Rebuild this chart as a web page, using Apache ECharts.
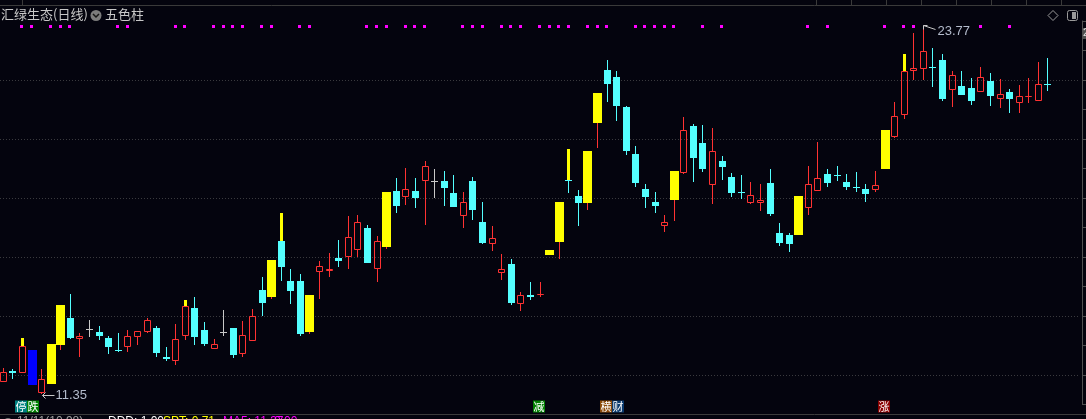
<!DOCTYPE html>
<html><head><meta charset="utf-8">
<script src="https://cdn.jsdelivr.net/npm/echarts@6/dist/echarts.min.js"></script>
<style>html,body{margin:0;padding:0;background:#04040e;overflow:hidden}#c{width:1086px;height:419px}</style>
</head><body><div id="c"></div>
<script>
// ---------------- DATA ----------------
const openP = [11.75,12.14,12.08,12.85,11.38,11.69,13.02,13.93,13.23,13.56,
13.46,13.25,12.85,12.96,13.30,13.47,13.59,12.62,12.48,13.33,
14.27,13.53,12.87,13.45,13.59,12.72,13.16,14.88,14.64,16.54,
15.19,15.19,13.47,15.48,15.54,15.97,16.01,16.25,16.98,15.60,
16.34,18.24,18.02,18.24,18.59,18.57,18.58,18.17,17.40,18.58,
17.19,16.45,15.47,15.76,14.42,14.72,14.71,16.07,16.51,18.62,
18.07,17.83,20.55,22.34,22.10,21.08,19.49,18.31,17.86,17.06,
17.93,18.86,20.44,19.86,18.45,19.25,18.71,18.22,17.84,17.84,
18.51,16.81,16.75,16.76,17.67,18.25,18.81,18.78,18.54,18.37,
18.31,18.28,18.98,20.07,20.82,22.32,22.36,22.43,22.68,21.67,
21.80,21.73,21.60,21.97,21.37,21.59,21.23,21.43,21.30,21.85];
const closeP = [12.09,12.07,12.98,11.66,11.86,13.05,14.37,13.26,13.32,13.56,
13.33,12.95,12.80,13.31,13.49,13.86,12.76,12.55,13.21,14.34,
13.30,13.06,13.05,13.45,12.69,13.35,13.99,14.45,15.90,15.67,
14.86,13.40,14.71,15.68,15.59,15.87,16.67,17.18,15.81,16.53,
18.20,17.74,18.29,18.01,19.08,18.57,18.35,17.71,17.85,17.59,
16.47,16.63,15.58,14.45,14.70,14.65,14.75,16.24,17.86,18.60,
17.83,19.59,21.56,21.87,21.13,19.60,18.52,18.04,17.74,17.18,
18.92,20.31,19.37,18.99,19.59,19.05,18.18,18.19,18.09,17.93,
17.47,16.48,16.45,18.07,18.46,18.67,18.52,18.75,18.38,18.34,
18.15,18.43,20.31,20.77,22.31,22.40,22.97,22.40,21.36,22.17,
21.50,21.30,22.09,21.47,21.52,21.37,21.45,21.46,21.86,21.83];
const lowP = [11.75,11.86,12.08,11.66,11.35,11.69,12.85,13.21,12.62,13.30,
13.19,12.71,12.78,12.78,13.02,13.41,12.62,12.48,12.35,13.20,
13.02,12.99,12.87,13.33,12.59,12.62,13.16,14.01,14.58,15.20,
14.42,13.33,13.40,14.59,15.33,15.67,15.60,16.00,15.81,15.16,
16.28,17.50,17.77,17.67,17.08,18.01,17.74,17.71,16.99,17.26,
16.45,16.21,15.23,14.38,14.18,14.55,14.65,16.07,15.93,18.18,
17.05,17.59,19.69,21.25,20.61,19.47,18.38,17.67,17.50,16.86,
17.23,18.82,18.55,18.89,17.81,18.61,18.03,17.97,17.81,17.56,
17.40,16.38,16.18,16.76,17.43,18.23,18.38,18.58,18.27,18.20,
17.86,18.21,18.98,20.03,20.67,22.01,22.01,21.77,21.29,21.09,
21.50,21.16,21.60,21.13,21.06,20.89,20.89,21.23,21.30,21.64];
const highP = [12.23,12.19,13.25,12.85,12.20,13.05,14.37,14.75,13.42,13.86,
13.66,13.32,13.42,13.53,13.50,13.93,13.66,12.95,13.74,14.54,
14.64,13.80,13.22,14.20,13.59,13.83,14.24,15.32,15.90,17.49,
15.59,15.42,14.71,15.86,16.14,16.58,17.39,17.42,17.08,16.71,
18.20,18.68,19.02,18.68,19.25,18.98,18.92,18.78,18.20,18.71,
17.86,17.05,16.10,15.93,14.81,15.15,15.15,16.24,17.86,19.66,
18.27,19.59,21.56,22.68,22.31,21.12,19.75,18.47,18.20,17.42,
18.92,20.75,20.51,20.47,20.37,19.42,18.85,18.78,18.54,18.47,
18.98,17.15,16.81,18.07,19.08,19.90,18.98,19.08,18.81,18.88,
18.47,18.92,20.31,21.26,22.88,23.59,23.77,23.08,22.88,22.31,
22.31,22.07,22.44,22.24,22.03,21.69,21.83,22.07,22.61,22.75];
// bar class: R rise, C fall, Y strong rise, B strong fall, W flat
const kinds = ("RCRBRYYCRW"+"CCCRRRCCRR"+"CCRWCRRCYC"+"CCYRRCRRCR"+"YCRCRWCCRC"+
               "CRRCRCRYYC"+"CYYCCCCCCR"+"YRCCRCCCRR"+"CCCYRRCCCC"+"CRYRRRRCCR"+"CCRCRCRRRC").split('');
const yellowTopIdx = [2,19,29,59,94];
const dotIdx = [2,3,5,6,7,12,13,18,19,22,23,24,25,27,28,31,32,38,39,40,42,43,44,48,49,50,
                52,53,54,56,57,58,59,61,62,63,66,67,68,69,70,73,75,84,86,92,94,95,102,105];
const signalIdx = [2,56,63,92];
const signalText = ['停跌','减','横财','涨'];
const extremeIdx = [4,96];
const extremeVal = [11.35,23.77];
const gridVals = [12,14,16,18,20,22];
const titleText = '汇绿生态(日线)';
const indicatorText = '五色柱';

// ---------------- STYLE ----------------
const COL = {R:'#ff3232', C:'#54ffff', Y:'#ffff00', B:'#0000ff', W:'#c8c8c8'};
const SIG_BG = {'停':'#008080','跌':'#008000','减':'#008000','横':'#8b4a0a','财':'#0a3a6e','涨':'#8b0000'};
const FONT = '"Noto Sans CJK SC","Noto Sans",sans-serif';

const candleData = openP.map((o,i)=>[i,o,closeP[i],lowP[i],highP[i]]);

function renderCandle(params, api){
  const i = api.value(0);
  const k = kinds[i];
  const pO = api.coord([i, api.value(1)]);
  const cx = pO[0];
  const yO = pO[1];
  const yC = api.coord([i, api.value(2)])[1];
  const yL = api.coord([i, api.value(3)])[1];
  const yH = api.coord([i, api.value(4)])[1];
  const wide = (k==='Y'||k==='B');
  const bw = wide ? 9 : 7;
  const left = Math.round(cx - bw/2);
  const lx = left + Math.floor(bw/2) + 0.5;
  let top = Math.round(Math.min(yO,yC));
  let bot = Math.round(Math.max(yO,yC));
  if (bot - top < 1) bot = top + 1;
  const hi = Math.round(yH), lo = Math.round(yL);
  const col = COL[k];
  const wickCol = (k==='Y') ? COL.R : col;
  const ch = [];
  if (yellowTopIdx.indexOf(i) >= 0) {
    ch.push({type:'rect', shape:{x:lx-1.5, y:hi, width:3, height:Math.max(top-hi,1)}, style:{fill:COL.Y}});
  } else if (top > hi) {
    ch.push({type:'line', shape:{x1:lx,y1:hi,x2:lx,y2:top}, style:{stroke:wickCol,lineWidth:1}});
  }
  if (lo > bot) ch.push({type:'line', shape:{x1:lx,y1:bot,x2:lx,y2:lo}, style:{stroke:wickCol,lineWidth:1}});
  if (k==='R') {
    ch.push({type:'rect', shape:{x:left+0.5, y:top+0.5, width:bw-1, height:Math.max(bot-top-1,0)},
      style:{fill:'rgba(0,0,0,0)', stroke:col, lineWidth:1}});
  } else {
    ch.push({type:'rect', shape:{x:left, y:top, width:bw, height:bot-top}, style:{fill:col}});
  }
  return {type:'group', children:ch};
}

function renderGrid(params, api){
  const cs = params.coordSys;
  const y = Math.round(api.coord([0, api.value(1)])[1]) + 0.5;
  return {type:'line', shape:{x1:cs.x, y1:y, x2:cs.x+cs.width-2, y2:y},
    style:{stroke:'#3a3a3e', lineWidth:1, lineDash:[1,2]}};
}

function renderDot(params, api){
  const cs = params.coordSys;
  const x = api.coord([api.value(0), 0])[0];
  return {type:'rect', shape:{x:Math.round(x)-2, y:cs.y+4, width:3, height:3}, style:{fill:'#ff00ff'}};
}

function renderSignal(params, api){
  const cs = params.coordSys;
  const x = api.coord([api.value(0), 0])[0];
  const txt = signalText[params.dataIndex];
  const x0 = Math.round(x) - 7;
  const y0 = cs.y + cs.height - 4;
  const ch = [];
  txt.split('').forEach((c,j)=>{
    ch.push({type:'rect', shape:{x:x0+j*12, y:y0, width:12, height:12}, style:{fill:SIG_BG[c]||'#444'}});
    ch.push({type:'text', style:{text:c, x:x0+j*12+6, y:y0+6.5, fill:'#ffffff', font:'11px '+FONT, align:'center', verticalAlign:'middle'}});
  });
  return {type:'group', children:ch};
}

function renderExtreme(params, api){
  const i = api.value(0), v = api.value(1);
  const p = api.coord([i, v]);
  const cx = Math.round(p[0]) + 0.5;
  const isLow = Math.abs(v - lowP[i]) < 1e-6;
  const col = '#c8c8c8';
  const ch = [];
  if (isLow) {
    const ty = Math.round(p[1]) + 1.5;
    ch.push({type:'line', shape:{x1:cx, y1:ty, x2:cx+12, y2:ty}, style:{stroke:col, lineWidth:1}});
    ch.push({type:'polyline', shape:{points:[[cx+3,ty-3],[cx,ty],[cx+3,ty+3]]}, style:{stroke:col, lineWidth:1, fill:null}});
    ch.push({type:'text', style:{text:v.toFixed(2), x:cx+13, y:ty, fill:'#b4bccc', font:'13px "Liberation Sans",Arial,sans-serif', verticalAlign:'middle'}});
  } else {
    const ty = Math.round(p[1]) - 2.5;
    ch.push({type:'line', shape:{x1:cx, y1:ty, x2:cx+12, y2:ty+4}, style:{stroke:col, lineWidth:1}});
    ch.push({type:'polyline', shape:{points:[[cx+4,ty],[cx,ty],[cx,ty+4]]}, style:{stroke:col, lineWidth:1, fill:null}});
    ch.push({type:'text', style:{text:v.toFixed(2), x:cx+14, y:ty+6, fill:'#b4bccc', font:'13px "Liberation Sans",Arial,sans-serif', verticalAlign:'middle'}});
  }
  return {type:'group', children:ch};
}

const chart = echarts.init(document.getElementById('c'), null, {renderer:'canvas'});
const topSeps = [22.5,816.5,851.5,886.5,921.5,956.5,991.5,1026.5,1061.5];
const graphics = [
  {type:'line', shape:{x1:0,y1:5.5,x2:1086,y2:5.5}, style:{stroke:'#3a3a3a',lineWidth:1}, silent:true},
  {type:'line', shape:{x1:0,y1:414.5,x2:1086,y2:414.5}, style:{stroke:'#3c3c3c',lineWidth:1}, silent:true},
  {type:'text', left:1, top:8, style:{text:titleText, fill:'#c8c8c8', font:'13px '+FONT}},
  {type:'circle', shape:{cx:96,cy:15.5,r:5.5}, style:{fill:'#7c7c7c'}},
  {type:'polyline', shape:{points:[[93,14],[96,17],[99,14]]}, style:{stroke:'#151515',lineWidth:1.5,fill:null}},
  {type:'text', left:105, top:8, style:{text:indicatorText, fill:'#c8c8c8', font:'13px '+FONT}},
  {type:'polygon', shape:{points:[[1053,10.5],[1058,15.5],[1053,20.5],[1048,15.5]]}, style:{stroke:'#9a9a9a',fill:null,lineWidth:1}},
  {type:'rect', shape:{x:1067.5,y:10.5,width:10,height:10,r:2}, style:{stroke:'#9a9a9a',fill:null,lineWidth:1}},
  {type:'rect', shape:{x:1072,y:12,width:4,height:7}, style:{fill:'#9a9a9a'}},
  {type:'rect', shape:{x:1083,y:28,width:20,height:11}, style:{fill:'#505050'}},
  {type:'text', left:1083, top:27, style:{text:'23.9', fill:'#e0e0e0', font:'11px "Liberation Sans",Arial,sans-serif'}},
  {type:'circle', shape:{cx:8,cy:423,r:5}, style:{fill:'#777'}},
  {type:'text', left:17, top:416, style:{text:'11/11(10.98)', fill:'#a0a0a0', font:'12px "Liberation Sans",Arial'}},
  {type:'text', left:108, top:416, style:{text:'DDD: 1.00', fill:'#ffffff', font:'12px "Liberation Sans",Arial'}},
  {type:'text', left:163, top:416, style:{text:'SPT: 0.71', fill:'#ffff00', font:'12px "Liberation Sans",Arial'}},
  {type:'text', left:223, top:416, style:{text:'MA5: 11.37', fill:'#ff00ff', font:'12px "Liberation Sans",Arial'}},
  {type:'text', left:274, top:416, style:{text:'0.00', fill:'#ff00ff', font:'12px "Liberation Sans",Arial'}}
];
topSeps.forEach(x=>graphics.push({type:'line', shape:{x1:x,y1:0,x2:x,y2:5}, style:{stroke:'#3a3a3a',lineWidth:1}}));

chart.setOption({
  backgroundColor:'#04040e',
  animation:false,
  grid:{left:0, right:4, top:21, bottom:14.5},
  xAxis:{type:'value', min:-0.344, max:112.55, show:false},
  yAxis:{type:'value', position:'right', min:11, max:24, interval:1,
    axisLine:{show:true, onZero:false, lineStyle:{color:'#505050'}},
    axisTick:{show:true, inside:false, length:4, lineStyle:{color:'#505050'}},
    axisLabel:{show:false}, splitLine:{show:false}},
  graphic: graphics,
  series:[
    {type:'custom', name:'grid', renderItem:renderGrid, data:gridVals.map(v=>[0,v]), encode:{x:0,y:1}, silent:true, clip:false, z:1},
    {type:'custom', name:'K', renderItem:renderCandle, data:candleData, encode:{x:0,y:[1,2,3,4]}, clip:false, z:3},
    {type:'custom', name:'dots', renderItem:renderDot, data:dotIdx.map(i=>[i,highP[i]]), encode:{x:0,y:1}, clip:false, z:4},
    {type:'custom', name:'signals', renderItem:renderSignal, data:signalIdx.map(i=>[i,lowP[i]]), encode:{x:0,y:1}, clip:false, z:4},
    {type:'custom', name:'extremes', renderItem:renderExtreme, data:extremeIdx.map((i,j)=>[i,extremeVal[j]]), encode:{x:0,y:1}, clip:false, z:5}
  ]
});
</script>
</body></html>
